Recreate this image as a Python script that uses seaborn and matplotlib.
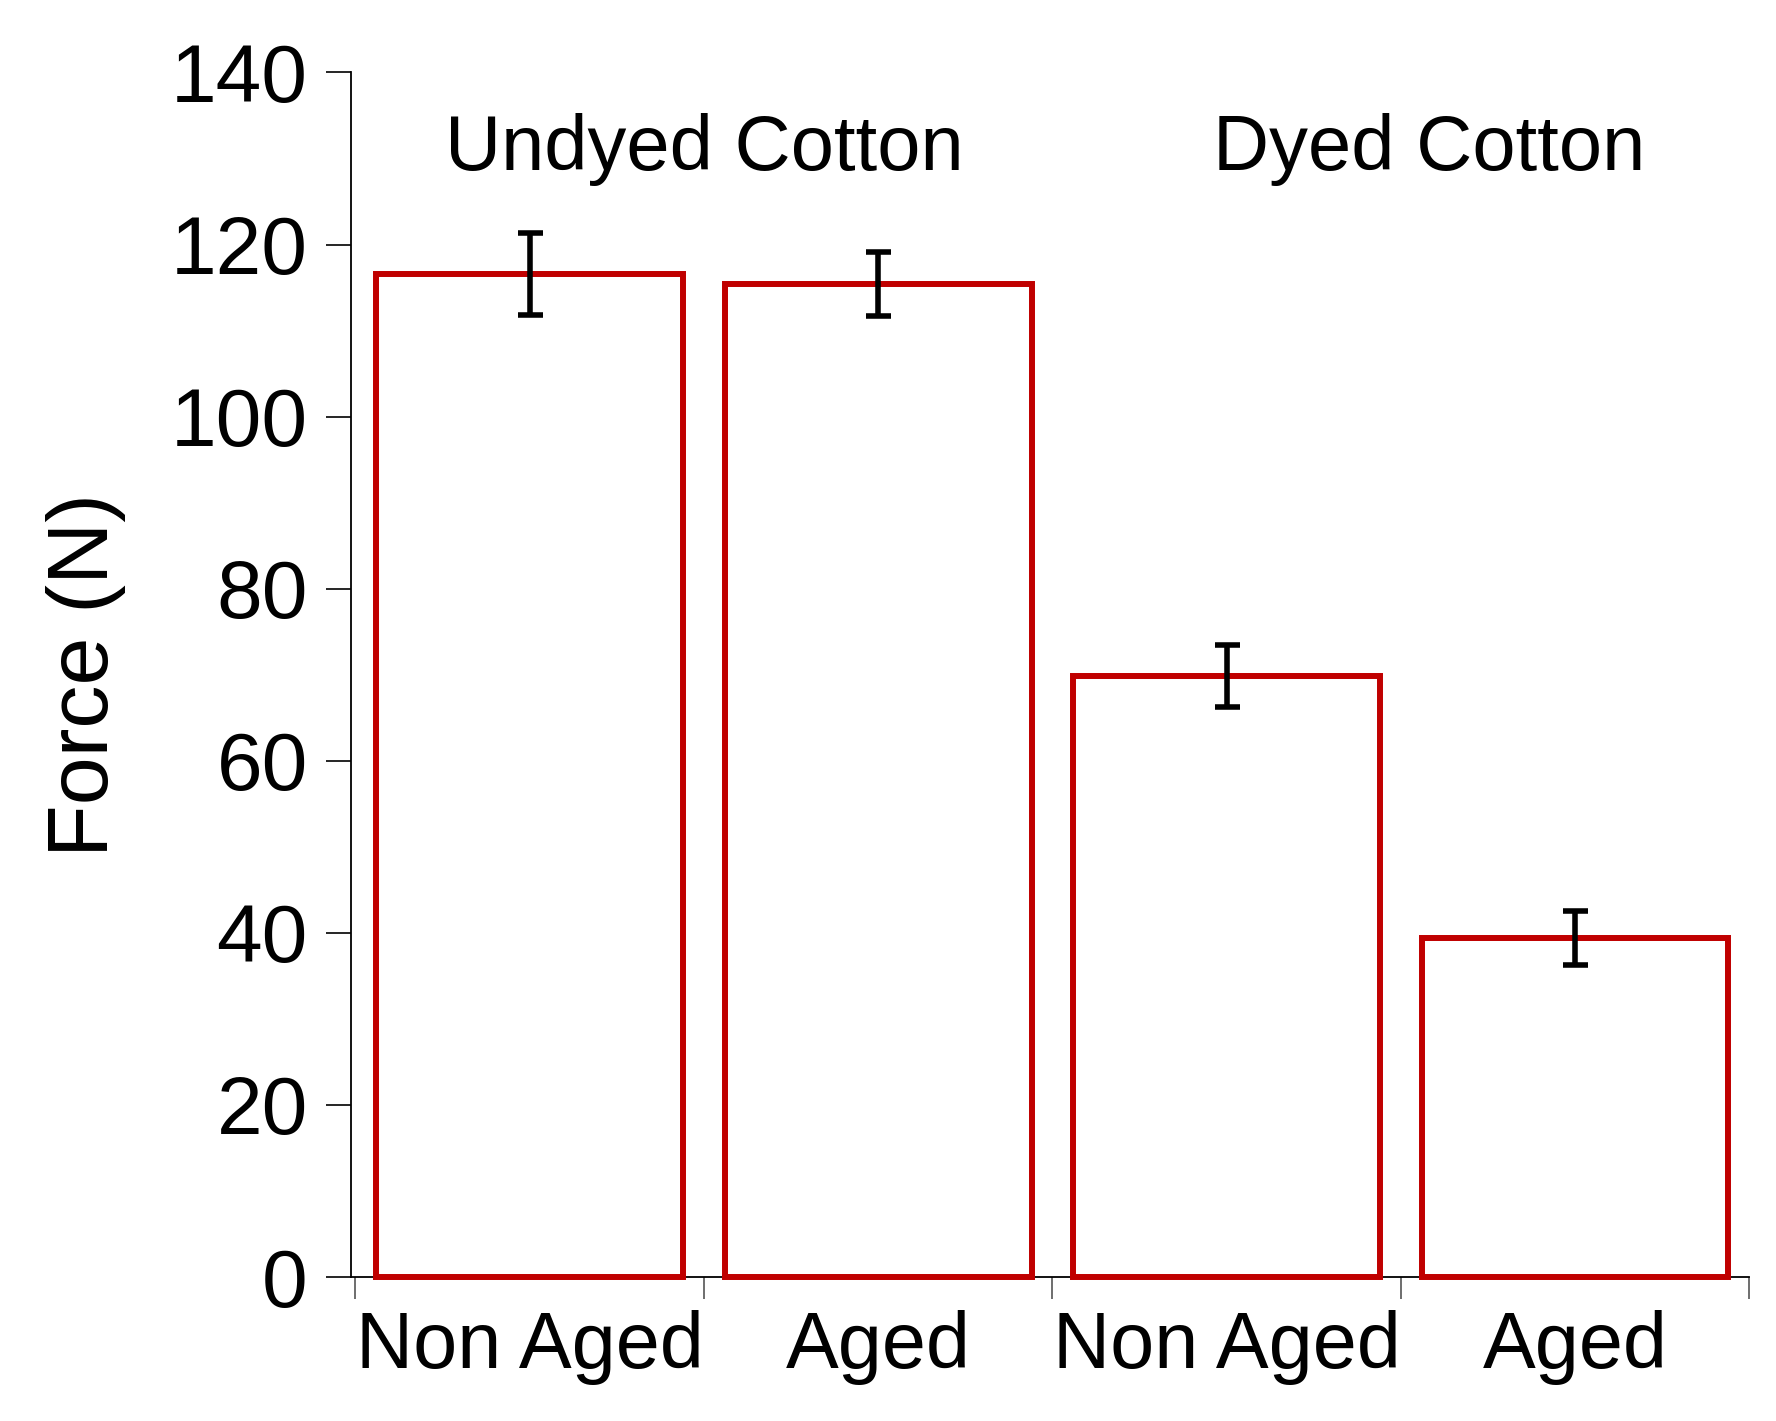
import numpy as np
import matplotlib
matplotlib.use("Agg")
import matplotlib.pyplot as plt
import seaborn as sns

sns.set_style("white")
plt.rcParams['font.family'] = ['Liberation Sans', 'DejaVu Sans']
plt.rcParams['text.color'] = 'black'
plt.rcParams['axes.labelcolor'] = 'black'
plt.rcParams['xtick.color'] = 'black'
plt.rcParams['ytick.color'] = 'black'

# data
bar_keys = ['undyed_non', 'undyed_aged', 'dyed_non', 'dyed_aged']
tick_labels = ['Non Aged', 'Aged', 'Non Aged', 'Aged']
force = [116.6, 115.4, 69.9, 39.4]
force_err = [4.8, 3.7, 3.6, 3.1]
group_labels = ['Undyed Cotton', 'Dyed Cotton']
group_x = [0.5, 2.58]

red = '#C00000'

fig = plt.figure(figsize=(17.76, 14.21), dpi=100)
ax = fig.add_axes([0.1976, 0.1013, 0.7874, 0.8477])

sns.barplot(x=bar_keys, y=force, order=bar_keys, color='white', saturation=1,
            edgecolor=red, linewidth=4.3, width=0.88, ax=ax)
for p in ax.patches:
    p.set_zorder(3)
    p.set_clip_on(False)
ax.errorbar(np.arange(len(force)), force, yerr=force_err, fmt='none',
            ecolor='black', elinewidth=4, capsize=9, capthick=4, zorder=5)

for lab, gx in zip(group_labels, group_x):
    ax.text(gx, 128.7, lab, ha='center', va='baseline', fontsize=56, color='black')

ax.set_ylim(0, 140)
ax.set_xlim(-0.513, 3.5)
ax.set_yticks(np.arange(0, 141, 20))
ax.tick_params(axis='y', labelsize=59, length=18, width=1.2, pad=13, direction='out', left=True)
ax.set_xticks(np.arange(len(force)))
ax.set_xticklabels(tick_labels)
ax.tick_params(axis='x', which='major', labelsize=57, length=0, pad=24)
ax.set_xticks(np.arange(-0.5, 3.6, 1.0), minor=True)
ax.tick_params(axis='x', which='minor', length=16, width=1.2, direction='out', bottom=True, color='#555555')

ax.set_ylabel('Force (N)', fontsize=62, labelpad=32, color='black')
ax.set_xlabel('')
sns.despine(ax=ax)
for s in ['left', 'bottom']:
    ax.spines[s].set_linewidth(1.3)
    ax.spines[s].set_color('black')
    ax.spines[s].set_zorder(1)

fig.savefig('out.png', dpi=100, facecolor='white')
